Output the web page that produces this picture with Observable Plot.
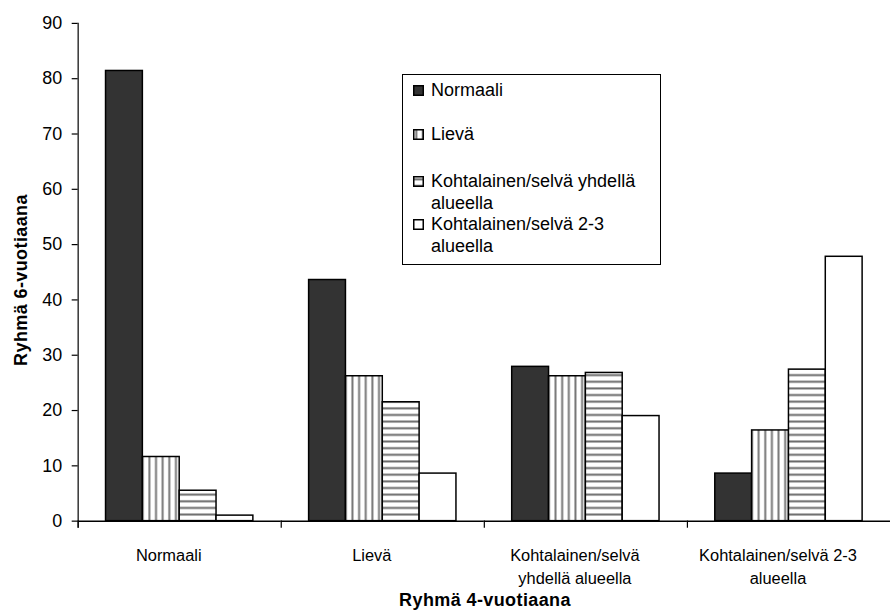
<!DOCTYPE html>
<html><head><meta charset="utf-8">
<script src="https://cdn.jsdelivr.net/npm/d3@7"></script>
<script src="https://cdn.jsdelivr.net/npm/@observablehq/plot@0.6"></script>
<style>
html,body{margin:0;padding:0;background:#fff;overflow:hidden;}
#wrap{position:relative;width:890px;height:612px;overflow:hidden;font-family:"Liberation Sans",Arial,sans-serif;color:#000;}
#chart{position:absolute;left:0;top:0;}
#chart g[aria-label="y-axis tick label"], #chart g[aria-label="y-axis tick label"] text{font-size:18px !important;}
#chart g[aria-label="fx-axis tick label"], #chart g[aria-label="fx-axis tick label"] text{font-size:16.5px !important;}
.title{position:absolute;font-weight:bold;font-size:18px;letter-spacing:0.4px;white-space:nowrap;}
#xtitle{left:485px;top:600px;transform:translate(-50%,-50%);}
#ytitle{left:21px;top:280px;transform:translate(-50%,-50%) rotate(-90deg);}
#legend{position:absolute;left:402px;top:74px;width:257px;height:189px;border:1px solid #000;background:#fff;}
.item{position:absolute;left:28px;font-size:18px;line-height:22.5px;white-space:nowrap;}
.sw{position:absolute;left:10px;width:11px;height:11px;}
</style></head><body>
<svg width="0" height="0" style="position:absolute">
<defs>
<pattern id="vstripe" patternUnits="userSpaceOnUse" width="6.67" height="10"><rect width="6.67" height="10" fill="#fff"/><rect x="2.3" y="0" width="2" height="10" fill="#777"/></pattern>
<pattern id="hstripe" patternUnits="userSpaceOnUse" width="10" height="6.67"><rect width="10" height="6.67" fill="#fff"/><rect x="0" y="2.3" width="10" height="2" fill="#6a6a6a"/></pattern>
</defs></svg>
<div id="wrap">
<div id="chart"></div>
<div id="legend"></div>
<div class="title" id="ytitle">Ryhmä 6-vuotiaana</div>
<div class="title" id="xtitle">Ryhmä 4-vuotiaana</div>
</div>
<script>
// Categories (x groups: Ryhmä 4-vuotiaana)
const groups = ["Normaali", "Lievä", "Kohtalainen/selvä yhdellä alueella", "Kohtalainen/selvä 2-3 alueella"];
const groupLabels = ["Normaali", "Lievä", "Kohtalainen/selvä\nyhdellä alueella", "Kohtalainen/selvä 2-3\nalueella"];
// Series (Ryhmä 6-vuotiaana)
const series = ["Normaali", "Lievä", "Kohtalainen/selvä yhdellä alueella", "Kohtalainen/selvä 2-3 alueella"];
const legendLabels = ["Normaali", "Lievä", "Kohtalainen/selvä yhdellä\nalueella", "Kohtalainen/selvä 2-3\nalueella"];
// Values per series, one per group
const valNormaali = [81.4, 43.6, 27.9, 8.6];
const valLieva = [11.6, 26.2, 26.2, 16.4];
const valKohtYksi = [5.5, 21.5, 26.8, 27.4];
const valKoht23 = [1.0, 8.6, 19.0, 47.8];
const yTicks = [0, 10, 20, 30, 40, 50, 60, 70, 80, 90];
const fills = ["#333333", "url(#vstripe)", "url(#hstripe)", "#ffffff"];

const seriesValues = [valNormaali, valLieva, valKohtYksi, valKoht23];
const data = [];
groups.forEach((g, gi) => series.forEach((s, si) => data.push({group: g, series: s, value: seriesValues[si][gi]})));

const chart = Plot.plot({
  width: 894, height: 612,
  marginTop: 23, marginBottom: 89, marginLeft: 78, marginRight: 0,
  style: {fontFamily: "'Liberation Sans', Arial, sans-serif", fontSize: "18px", color: "#000", background: "transparent"},
  fx: {domain: groups, padding: 0, label: null},
  x: {domain: series, paddingInner: 0, paddingOuter: 0.74, axis: null},
  y: {domain: [0, 90], label: null},
  color: {domain: series, range: fills},
  marks: [
    Plot.axisY({ticks: yTicks, tickSize: 6, tickPadding: 10, label: null, strokeWidth: 1.2}),
    Plot.axisFx({anchor: "bottom", tickSize: 0, tickPadding: 24, lineHeight: 1.4, dx: -11, label: null,
      tickFormat: d => groupLabels[groups.indexOf(d)]}),
    Plot.barY(data, {fx: "group", x: "series", y: "value", fill: "series", stroke: "#000", strokeWidth: 1.5}),
    Plot.ruleY([0], {stroke: "#000", strokeWidth: 1.5}),
    Plot.frame({anchor: "left", fx: [groups[0]], insetBottom: -6, stroke: "#000", strokeWidth: 1.2}),
    Plot.frame({anchor: "left", insetTop: 500, insetBottom: -6, stroke: "#000", strokeWidth: 1.2})
  ]
});
document.getElementById("chart").appendChild(chart);

// Legend
const legend = document.getElementById("legend");
const rowTops = [3.75, 47.75, 94.75, 137.75];
series.forEach((s, i) => {
  const item = document.createElement("div");
  item.className = "item";
  item.style.top = rowTops[i] + "px";
  item.innerHTML = legendLabels[i].replace("\n", "<br>");
  legend.appendChild(item);
  const sw = document.createElementNS("http://www.w3.org/2000/svg", "svg");
  sw.setAttribute("class", "sw");
  sw.setAttribute("width", 11); sw.setAttribute("height", 11);
  sw.style.top = (rowTops[i] + 11.25 - 5.5) + "px";
  const r = document.createElementNS("http://www.w3.org/2000/svg", "rect");
  r.setAttribute("x", 0.75); r.setAttribute("y", 0.75); r.setAttribute("width", 9.5); r.setAttribute("height", 9.5);
  r.setAttribute("fill", fills[i]); r.setAttribute("stroke", "#000"); r.setAttribute("stroke-width", 1.5);
  sw.appendChild(r);
  legend.appendChild(sw);
});
</script>
</body></html>
